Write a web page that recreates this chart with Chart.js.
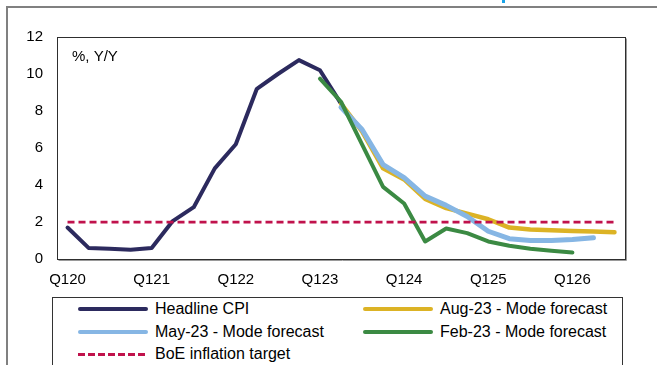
<!DOCTYPE html>
<html>
<head>
<meta charset="utf-8">
<title>UK CPI vs BoE forecasts</title>
<script src="https://cdn.jsdelivr.net/npm/chart.js@4.4.1/dist/chart.umd.min.js"></script>
<style>
    html, body { margin: 0; padding: 0; background: #fff; }
    body {
        width: 657px; height: 365px; position: relative; overflow: hidden;
        font-family: "Liberation Sans", Arial, sans-serif;
    }
    #frame {
        position: absolute; left: 6px; top: 6px; width: 700px; height: 400px;
        border-left: 2px solid #808080; border-top: 2px solid #808080;
    }
    #tick-mark { position: absolute; left: 502px; top: 0; width: 3px; height: 3px; background: #1aa3e8; }
    #wrap { position: absolute; left: 0; top: 0; width: 657px; height: 365px; }
    #legend {
        position: absolute; left: 52px; top: 297px; width: 571px; height: 80px;
        border: 1px solid #333; box-sizing: border-box; background: #fff;
    }
    .item {
        position: absolute; height: 22px; display: flex; align-items: center;
        font-size: 16px; color: #000; white-space: nowrap;
    }
    .swatch { width: 70px; height: 4px; margin-right: 7px; border-radius: 2px; }
</style>
</head>
<body>
<div id="frame"></div>
<div id="tick-mark"></div>
<div id="wrap"><canvas id="cpi-chart"></canvas></div>
<div id="legend"></div>

<script>
// quarters Q1 2020 .. Q3 2026
const quarters = [
    "Q120", "Q220", "Q320", "Q420",
    "Q121", "Q221", "Q321", "Q421",
    "Q122", "Q222", "Q322", "Q422",
    "Q123", "Q223", "Q323", "Q423",
    "Q124", "Q224", "Q324", "Q424",
    "Q125", "Q225", "Q325", "Q425",
    "Q126", "Q226", "Q326"
];

const headlineCpi = [1.7, 0.6, 0.55, 0.5, 0.6, 2.05, 2.8, 4.9, 6.2, 9.2, 10.0, 10.75, 10.2, 8.4,
    null, null, null, null, null, null, null, null, null, null, null, null, null];

const aug23Forecast = [null, null, null, null, null, null, null, null, null, null, null, null, null,
    8.4, 6.9, 4.9, 4.3, 3.25, 2.75, 2.45, 2.15, 1.7, 1.6, 1.55, 1.52, 1.49, 1.45];

const may23Forecast = [null, null, null, null, null, null, null, null, null, null, null, null, null,
    8.2, 7.0, 5.1, 4.4, 3.4, 2.9, 2.3, 1.5, 1.1, 1.0, 1.0, 1.05, 1.15, null];

const feb23Forecast = [null, null, null, null, null, null, null, null, null, null, null, null,
    9.75, 8.5, 6.2, 3.9, 3.0, 0.95, 1.65, 1.4, 0.95, 0.72, 0.55, 0.45, 0.35, null, null];

const boeTarget = quarters.map(() => 2);

const yTicks = [0, 2, 4, 6, 8, 10, 12];

const FONT = '"Liberation Sans", Arial, sans-serif';

function lineSet(label, data, color, width, order) {
    return {
        label, data, order,
        borderColor: color,
        backgroundColor: color,
        borderWidth: width,
        pointRadius: 0,
        tension: 0,
        spanGaps: false,
        borderJoinStyle: 'round',
        borderCapStyle: 'round'
    };
}

const datasets = [
    lineSet('Headline CPI', headlineCpi, '#2c2a5e', 4, 4),
    lineSet('Aug-23 - Mode forecast', aug23Forecast, '#dcb325', 4.5, 3),
    lineSet('May-23 - Mode forecast', may23Forecast, '#86b6e4', 5, 2),
    lineSet('Feb-23 - Mode forecast', feb23Forecast, '#3b8a43', 4, 1),
    Object.assign(lineSet('BoE inflation target', boeTarget, '#c0124c', 2.75, 0), {
        borderDash: [7, 4],
        borderCapStyle: 'butt'
    })
];

// plot box outline + unit note
const plotFrame = {
    id: 'plotFrame',
    afterDraw(chart) {
        const { ctx, chartArea: a } = chart;
        const l = Math.round(a.left) + 0.5, t = Math.round(a.top) + 0.5;
        const r = Math.round(a.right) + 0.5, b = Math.round(a.bottom) + 0.5;
        ctx.save();
        ctx.strokeStyle = '#9a9a9a';
        ctx.lineWidth = 1;
        ctx.beginPath();
        ctx.moveTo(r + 1, t + 1);
        ctx.lineTo(r + 1, b + 1);
        ctx.lineTo(l + 1, b + 1);
        ctx.stroke();
        ctx.strokeStyle = '#2e2e2e';
        ctx.strokeRect(l, t, r - l, b - t);
        ctx.fillStyle = '#000';
        ctx.font = '15px ' + FONT;
        ctx.textBaseline = 'middle';
        ctx.textAlign = 'left';
        ctx.fillText('%, Y/Y', a.left + 15, a.top + 20);
        ctx.restore();
    }
};

const chart = new Chart(document.getElementById('cpi-chart'), {
    type: 'line',
    data: { labels: quarters, datasets },
    options: {
        responsive: true,
        maintainAspectRatio: false,
        animation: false,
        layout: { padding: { top: 37, right: 32, left: 0, bottom: 0 } },
        plugins: {
            legend: { display: false },
            tooltip: { enabled: false }
        },
        scales: {
            x: {
                type: 'category',
                offset: true,
                grid: { display: false, drawTicks: false },
                border: { display: false },
                ticks: {
                    autoSkip: false,
                    maxRotation: 0,
                    padding: 12,
                    color: '#000',
                    font: { family: FONT, size: 15 },
                    callback: (v, i) => (i % 4 === 0 ? quarters[i] : '')
                },
                afterFit: (scale) => { scale.height = 106; }
            },
            y: {
                min: 0,
                max: 12,
                grid: { display: false, drawTicks: false },
                border: { display: false },
                afterBuildTicks: (scale) => { scale.ticks = yTicks.map(v => ({ value: v })); },
                ticks: {
                    padding: 14,
                    color: '#000',
                    font: { family: FONT, size: 15 }
                },
                afterFit: (scale) => { scale.width = 57; }
            }
        }
    },
    plugins: [plotFrame]
});

// two-column legend built from the datasets
const legend = document.getElementById('legend');
const colX = [25, 310];
const rowY = [0, 23, 45];
chart.data.datasets.forEach((ds, i) => {
    const item = document.createElement('div');
    item.className = 'item';
    item.style.left = colX[i % 2] + 'px';
    item.style.top = rowY[Math.floor(i / 2)] + 'px';
    const sw = document.createElement('span');
    sw.className = 'swatch';
    if (ds.borderDash) {
        sw.style.height = '3px';
        sw.style.borderRadius = '0';
        sw.style.background = `repeating-linear-gradient(90deg, ${ds.borderColor} 0 7px, transparent 7px 10px)`;
    } else {
        sw.style.background = ds.borderColor;
    }
    const txt = document.createElement('span');
    txt.textContent = ds.label;
    item.appendChild(sw);
    item.appendChild(txt);
    legend.appendChild(item);
});
</script>
</body>
</html>
